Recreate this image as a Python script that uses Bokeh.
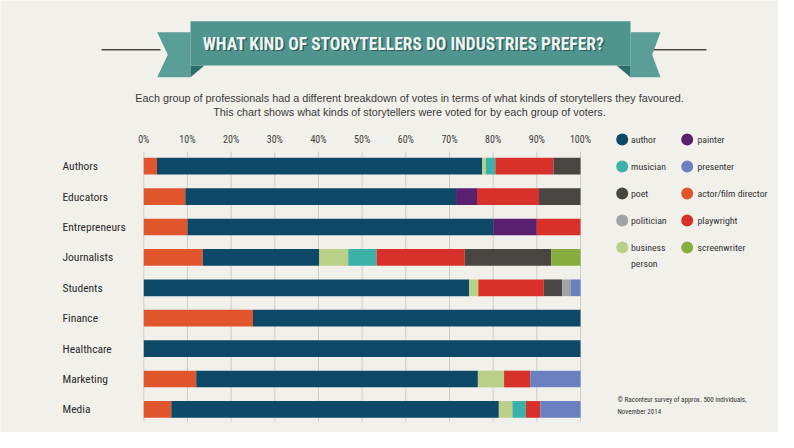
from bokeh.plotting import figure
from bokeh.models import Range1d, ColumnDataSource
from bokeh.core.properties import value
from bokeh.embed import file_html
from bokeh.resources import INLINE

# ---------------- data ----------------
categories = ["Authors", "Educators", "Entrepreneurs", "Journalists", "Students",
              "Finance", "Healthcare", "Marketing", "Media"]
actor        = [3.0, 9.5, 10.0, 13.5, 0.0, 25.0, 0.0, 12.0, 6.3]
author       = [74.5, 62.0, 70.0, 26.7, 74.5, 75.0, 100.0, 64.5, 75.0]
business     = [0.8, 0.0, 0.0, 6.6, 2.1, 0.0, 0.0, 6.0, 3.1]
musician     = [2.2, 0.0, 0.0, 6.5, 0.0, 0.0, 0.0, 0.0, 3.1]
painter      = [0.0, 4.8, 10.0, 0.0, 0.0, 0.0, 0.0, 0.0, 0.0]
playwright   = [13.3, 14.2, 10.0, 20.2, 15.0, 0.0, 0.0, 6.0, 3.3]
poet         = [6.2, 9.5, 0.0, 19.8, 4.2, 0.0, 0.0, 0.0, 0.0]
politician   = [0.0, 0.0, 0.0, 0.0, 1.9, 0.0, 0.0, 0.0, 0.0]
presenter    = [0.0, 0.0, 0.0, 0.0, 2.3, 0.0, 0.0, 11.5, 9.2]
screenwriter = [0.0, 0.0, 0.0, 6.7, 0.0, 0.0, 0.0, 0.0, 0.0]

series_keys = ["actor", "author", "business", "musician", "painter",
               "playwright", "poet", "politician", "presenter", "screenwriter"]
series_labels = {"actor": "actor/film director", "author": "author", "business": "business person",
                 "musician": "musician", "painter": "painter", "playwright": "playwright",
                 "poet": "poet", "politician": "politician", "presenter": "presenter",
                 "screenwriter": "screenwriter"}
series_colors = {"actor": "#e0552c", "author": "#0e4867", "business": "#bacf88",
                 "musician": "#3cb1a8", "painter": "#5a2070", "playwright": "#d8302a",
                 "poet": "#484543", "politician": "#a0a3a3", "presenter": "#6b80c0",
                 "screenwriter": "#86ad3e"}
legend_col1 = ["author", "musician", "poet", "politician", "business"]
legend_col2 = ["painter", "presenter", "actor", "playwright", "screenwriter"]

tick_values = [0, 10, 20, 30, 40, 50, 60, 70, 80, 90, 100]
tick_labels = ["0%", "10%", "20%", "30%", "40%", "50%", "60%", "70%", "80%", "90%", "100%"]

title_text = "WHAT KIND OF STORYTELLERS DO INDUSTRIES PREFER?"
subtitle_lines = ["Each group of professionals had a different breakdown of votes in terms of what kinds of storytellers they favoured.",
                  "This chart shows what kinds of storytellers were voted for by each group of voters."]
footnote_lines = ["\u00a9 Raconteur survey of approx. 500 individuals,", "November 2014"]

# ---------------- layout constants ----------------
BG = "#f2f0eb"
NARROW = "Roboto Condensed, DejaVu Sans Condensed, Roboto"
W, H = 778, 432
PX0, PX100 = 143.3, 580.0          # screen x of 0% and 100%
ROW0, PITCH = 165.7, 30.4          # screen y of first row centre, row pitch
ppu = (PX100 - PX0) / 100.0

p = figure(width=W, height=H, output_backend="svg", toolbar_location=None,
           x_range=Range1d(0, W), y_range=Range1d(H, 0),
           x_axis_location=None, y_axis_location=None, min_border=0,
           background_fill_color=BG, border_fill_color=BG, outline_line_color=None)
p.grid.visible = False
p.extra_x_ranges = {"pct": Range1d((0 - PX0) / ppu, (W - PX0) / ppu)}
p.extra_y_ranges = {"row": Range1d((H - ROW0) / PITCH, (0 - ROW0) / PITCH)}

# ---------------- title ribbon ----------------
TEAL = "#4f958e"
TEAL_T = "#5a9e97"
FOLD = "#2c6e68"
p.line([101, 160], [49.3, 49.3], line_color="#4a4a48", line_width=1.6)
p.line([650, 706], [49.3, 49.3], line_color="#4a4a48", line_width=1.6)
p.patch([156.7, 190, 190, 156.7, 167.3], [31.7, 31.7, 76.7, 76.7, 54.2], fill_color=TEAL_T, line_color=None)
p.patch([660, 630, 630, 660, 651.7], [31.7, 31.7, 76.7, 76.7, 54.2], fill_color=TEAL_T, line_color=None)
p.patch([190, 204, 190], [65, 65, 76.7], fill_color=FOLD, line_color=None)
p.patch([630, 616, 630], [65, 65, 76.7], fill_color=FOLD, line_color=None)
p.patch([190, 630, 630, 190], [20.7, 20.7, 65, 65], fill_color=TEAL, line_color=None)
p.text(x=[404.5], y=[44.5], text=[title_text], text_font=value(NARROW), text_font_style="bold",
       text_font_size="17.5px", text_color="#2a5d58", text_align="center", text_baseline="middle")
p.text(x=[403], y=[43], text=[title_text], text_font=value(NARROW), text_font_style="bold",
       text_font_size="17.5px", text_color="#eef3f1", text_align="center", text_baseline="middle")

# subtitle
p.text(x=[409, 409], y=[97, 111], text=subtitle_lines, text_font=value("Liberation Sans"),
       text_font_size="10.8px", text_color="#3a3a3a", text_align="center", text_baseline="middle")

# ---------------- grid + tick labels ----------------
p.segment(x0=tick_values, x1=tick_values, y0=[151] * len(tick_values), y1=[421] * len(tick_values),
          x_range_name="pct", line_color="#cfcdc8", line_width=1)
p.text(x=tick_values, y=[139] * len(tick_values), text=tick_labels, x_range_name="pct",
       text_font=value(NARROW), text_font_size="10px", text_color="#404040",
       text_align="center", text_baseline="middle")

# ---------------- bars ----------------
data = {"row": list(range(len(categories))), "actor": actor, "author": author, "business": business,
        "musician": musician, "painter": painter, "playwright": playwright, "poet": poet,
        "politician": politician, "presenter": presenter, "screenwriter": screenwriter}
src = ColumnDataSource(data)
p.hbar_stack(series_keys, y="row", height=0.55, source=src,
             fill_color=[series_colors[k] for k in series_keys], line_color=None,
             x_range_name="pct", y_range_name="row")

# category labels
p.text(x=[62] * len(categories), y=list(range(len(categories))), text=categories,
       y_range_name="row", text_font=value(NARROW), text_font_size="11.5px", text_color="#2a2a2a",
       text_align="left", text_baseline="middle")

# ---------------- legend ----------------
LEG_Y0, LEG_DY = 139.0, 27.0
for col_keys, cx, tx in ((legend_col1, 621.7, 630.5), (legend_col2, 686.7, 697.0)):
    ys = [LEG_Y0 + i * LEG_DY for i in range(len(col_keys))]
    p.scatter(x=[cx] * len(col_keys), y=ys, size=12, marker="circle",
              fill_color=[series_colors[k] for k in col_keys], line_color=None)
    for k, y in zip(col_keys, ys):
        words = series_labels[k].split(" ") if series_labels[k] == "business person" else [series_labels[k]]
        p.text(x=[tx] * len(words), y=[y + j * 15.5 for j in range(len(words))], text=words,
               text_font=value(NARROW), text_font_size="9.8px", text_color="#333333",
               text_align="left", text_baseline="middle")

# footnote
p.text(x=[617, 617], y=[399, 411], text=footnote_lines, text_font=value(NARROW),
       text_font_size="7px", text_color="#333333", text_align="left", text_baseline="middle")

open("out.html", "w").write(file_html(p, INLINE))
